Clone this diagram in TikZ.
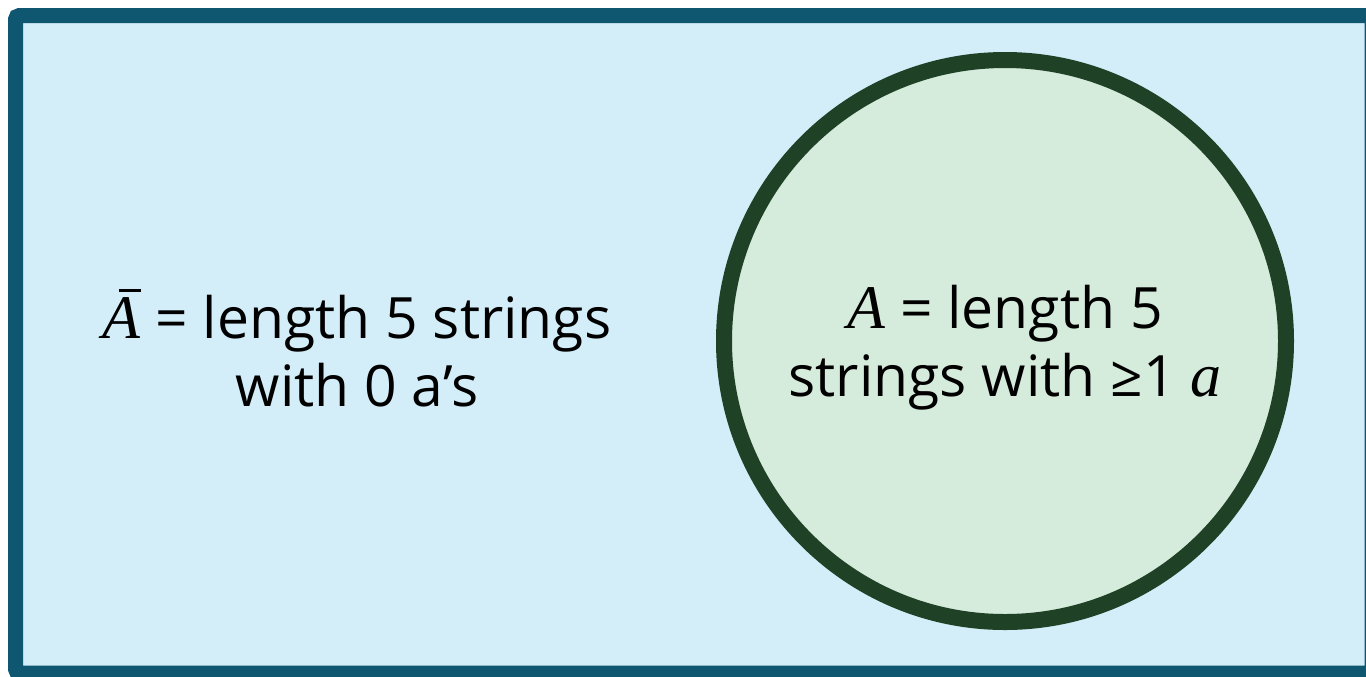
\documentclass[tikz,border=0pt]{standalone}
\usepackage{fontspec}
\setmainfont{Open Sans}
\newfontfamily\symserif{Liberation Serif}
\usetikzlibrary{calc}
\definecolor{frameteal}{HTML}{0F5670}
\definecolor{framefill}{HTML}{D3EEF9}
\definecolor{setedge}{HTML}{1F4227}
\definecolor{setfill}{HTML}{D5EBDC}
\tikzset{
  universe/.style={draw=frameteal, fill=framefill, line width=7.5pt,
    rounded corners=2pt},
  setcircle/.style={circle, draw=setedge, fill=setfill, line width=8pt,
    minimum size=281pt, inner sep=0pt},
  setlabel/.style={font=\fontsize{28.5}{34}\selectfont, align=center,
    inner sep=0pt}
}
\newcommand{\varsym}[1]{{\fontsize{31}{34}\symserif\itshape #1}}
\newcommand{\barsym}[1]{\rlap{\kern 8pt\raise 23pt\hbox{\vrule width 11pt height 1.3pt}}\varsym{#1}}

\begin{document}
\begin{tikzpicture}[x=0.5pt, y=-0.5pt]
\useasboundingbox (0,0) rectangle (1366,676);

%% ── Universe ───────────────────────────────────────────
\draw[universe] (15.5,15.5) rectangle (1372,673);

%% ── Set A ──────────────────────────────────────────────
\node[setcircle] (setA) at (1005,341) {};

%% ── Labels ─────────────────────────────────────────────
\node[setlabel] (compl) at (357,348)
  {\barsym{A} = length 5 strings\\ with 0 a’s};
\node[setlabel] (inside) at ($(setA.center)+(0,7)$)
  {\varsym{A} = length 5\\ strings with ≥1 \varsym{a}};

\end{tikzpicture}
\end{document}
